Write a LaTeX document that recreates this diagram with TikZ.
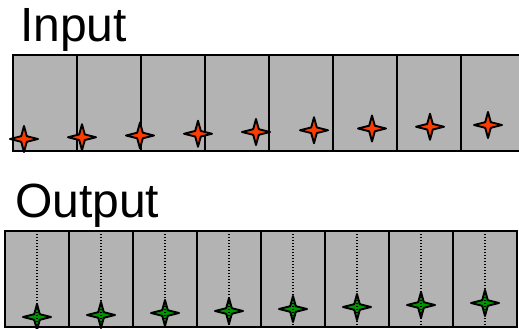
\documentclass[tikz,border=0pt]{standalone}
\usepackage{fontspec}
\setmainfont{Liberation Sans}
\definecolor{cellgray}{RGB}{179,179,179}
\definecolor{sparkred}{RGB}{255,60,0}
\definecolor{sparkgreen}{RGB}{0,150,0}
\tikzset{
  cell/.style={draw=black, line width=1.1pt, fill=cellgray, rectangle, minimum width=64pt, minimum height=96pt, inner sep=0pt, outer sep=0pt},
  title/.style={anchor=base west, inner sep=0pt, font=\fontsize{48}{52}\selectfont},
  guide/.style={line width=1.3pt, dash pattern=on 1.2pt off 1.8pt},
  pics/spark/.style={code={
    \draw[line width=1.9pt, line join=round, fill=#1]
      (14,0) -- (2.8,2.8) -- (0,13) -- (-2.8,2.8) -- (-14,0) -- (-2.8,-2.8) -- (0,-13) -- (2.8,-2.8) -- cycle;
  }}
}
\begin{document}
\begin{tikzpicture}[x=1pt,y=-1pt]
\clip (0,0) rectangle (519,329);
\useasboundingbox (0,0) rectangle (519,329);
\node[title] (tin) at (20,42) {Input};
\node[title] (tout) at (15,217) {Output};
\foreach \k in {1,...,8} {
  \node[cell] (in\k) at ({45+64*(\k-1)},103) {};
}
\foreach \k in {1,...,9} {
  \pic (si\k) at ({24+58*(\k-1)},{139-1.75*(\k-1)}) {spark=sparkred};
}
\foreach \k in {1,...,8} {
  \node[cell] (out\k) at ({37+64*(\k-1)},279) {};
}
\foreach \k in {1,...,8} {
  \pic (so\k) at ({37+64*(\k-1)},{317-2*(\k-1)}) {spark=sparkgreen};
  \draw[guide] (out\k.north) -- (out\k.south);
}
\end{tikzpicture}
\end{document}
